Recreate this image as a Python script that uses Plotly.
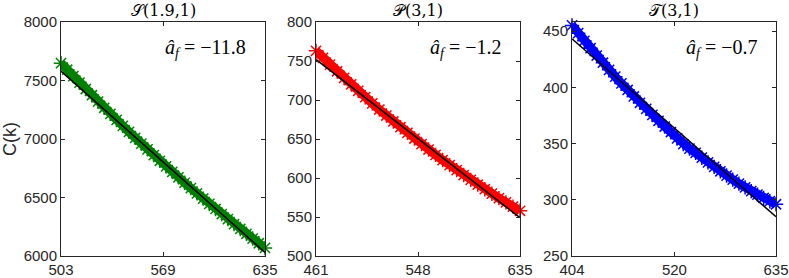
import plotly.graph_objects as go

# S(1.9,1): observed C(k) every 4 steps, plus the fitted line end points
s_k = list(range(503, 636, 4))
s_c = [7648, 7592, 7537, 7482, 7427, 7374, 7320, 7267, 7215, 7163, 7112, 7061,
       7010, 6961, 6911, 6862, 6814, 6766, 6719, 6672, 6626, 6580, 6535, 6490,
       6445, 6402, 6358, 6315, 6273, 6231, 6190, 6149, 6109, 6069]
s_fit_k = [503, 635]
s_fit_c = [7580, 6030]

# P(3,1)
p_k = list(range(461, 636, 6))
p_c = [763.0, 754.1, 745.4, 736.8, 728.3, 720.0, 711.7, 703.6, 695.7, 687.8,
       680.1, 672.5, 665.1, 657.8, 650.6, 643.5, 636.5, 629.7, 623.0, 616.5,
       610.1, 603.8, 597.6, 591.6, 585.6, 579.9, 574.2, 568.7, 563.3, 558.0]
p_fit_k = [461, 635]
p_fit_c = [752, 549]

# T(3,1)
t_k = list(range(404, 636, 7))
t_c = [455.0, 448.1, 441.3, 434.7, 428.2, 421.8, 415.5, 409.4, 403.4, 397.6,
       391.8, 386.2, 380.8, 375.4, 370.2, 365.1, 360.2, 354.5, 349.5, 345.5,
       341.7, 337.4, 333.2, 329.2, 325.3, 321.5, 317.9, 314.3, 311.0, 307.7,
       304.6, 301.6, 298.7, 296.0]
t_fit_k = [404, 635]
t_fit_c = [443, 285]

titles = ["\U0001D4AE(1.9,1)", "\U0001D4AB(3,1)", "\U0001D4AF(3,1)"]
a_hat = ["\u221211.8", "\u22121.2", "\u22120.7"]
xticks = [[503, 569, 635], [461, 548, 635], [404, 520, 635]]
yranges = [[6000, 8000], [500, 800], [250, 458]]
ydtick = [500, 50, 50]
colors = ["#008000", "#ff0000", "#0000ff"]

W, H = 789, 278
xdom = [[61 / W, 265 / W], [316 / W, 520 / W], [572 / W, 776 / W]]
ydom = [1 - 256 / H, 1 - 22 / H]

series = [(s_k, s_c, s_fit_k, s_fit_c), (p_k, p_c, p_fit_k, p_fit_c), (t_k, t_c, t_fit_k, t_fit_c)]

fig = go.Figure()
layout = dict(width=W, height=H, margin=dict(l=0, r=0, t=0, b=0, autoexpand=False),
              plot_bgcolor="white", paper_bgcolor="white", showlegend=False,
              font=dict(family="Liberation Sans, Arial", size=15, color="#262626"))
annotations = []
for i, (k, c, fk, fc) in enumerate(series):
    n = "" if i == 0 else str(i + 1)
    # dense '*' markers: a thick band of the same colour plus the stars on top
    fig.add_trace(go.Scatter(x=k, y=c, mode="lines+markers", xaxis="x" + n, yaxis="y" + n,
                             cliponaxis=False, line=dict(color=colors[i], width=9),
                             marker=dict(symbol="asterisk-open", size=12, color=colors[i],
                                         line=dict(color=colors[i], width=1.5))))
    fig.add_trace(go.Scatter(x=fk, y=fc, mode="lines", xaxis="x" + n, yaxis="y" + n,
                             line=dict(color="black", width=1.5)))
    ax = dict(linecolor="#262626", linewidth=1, mirror="ticks", ticks="inside", ticklen=4,
              tickcolor="#262626", showgrid=False, zeroline=False, automargin=False)
    layout["xaxis" + n] = dict(ax, domain=xdom[i], anchor="y" + n, range=[xticks[i][0], xticks[i][2]],
                               tickvals=xticks[i], ticktext=[str(v) for v in xticks[i]])
    layout["yaxis" + n] = dict(ax, domain=ydom, anchor="x" + n, range=yranges[i], dtick=ydtick[i])
    annotations.append(dict(xref="paper", yref="paper", x=(xdom[i][0] + xdom[i][1]) / 2, y=1 - 11 / H,
                            text=titles[i], showarrow=False, xanchor="center", yanchor="middle",
                            font=dict(family="DejaVu Serif, Liberation Serif", size=16, color="black")))
    annotations.append(dict(xref="paper", yref="paper", x=xdom[i][1] - 17 / W, y=1 - 48 / H,
                            text="<i>\u00e2</i><sub><i>f</i></sub> = " + a_hat[i], showarrow=False,
                            xanchor="right", yanchor="middle",
                            font=dict(family="Liberation Serif, DejaVu Serif", size=20, color="black")))

layout["yaxis"]["title"] = dict(text="C(k)", standoff=4)
layout["annotations"] = annotations
fig.update_layout(**layout)
# drop the page's default body margin so the figure sits at the window's corner
fig.write_html("out.html", config={"displayModeBar": False},
               post_script="document.body.style.margin='0';")
